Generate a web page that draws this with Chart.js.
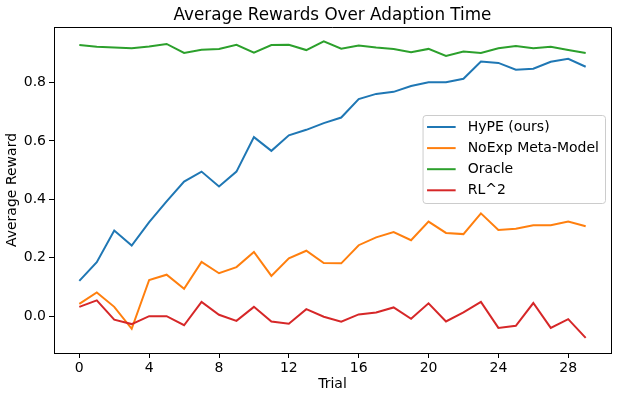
<!DOCTYPE html>
<html>
<head>
<meta charset="utf-8">
<script src="https://cdn.jsdelivr.net/npm/chart.js@4.4.0/dist/chart.umd.min.js"></script>
<style>
  body { margin: 0; background: #fff; }
  #wrap { width: 619px; height: 399px; }
</style>
</head>
<body>
<div id="wrap"><canvas id="chart" width="619" height="399"></canvas></div>
<script>
var trials = [0, 1, 2, 3, 4, 5, 6, 7, 8, 9, 10, 11, 12, 13, 14, 15, 16, 17, 18, 19, 20, 21, 22, 23, 24, 25, 26, 27, 28, 29];
var hype = [0.121, 0.185, 0.293, 0.242, 0.322, 0.393, 0.461, 0.495, 0.444, 0.495, 0.613, 0.566, 0.619, 0.638, 0.661,
            0.680, 0.743, 0.761, 0.768, 0.788, 0.801, 0.801, 0.813, 0.872, 0.867, 0.844, 0.847, 0.871, 0.881, 0.854];
var noexp = [0.042, 0.081, 0.032, -0.043, 0.124, 0.142, 0.094, 0.186, 0.147, 0.168, 0.220, 0.138, 0.198, 0.224, 0.182,
             0.181, 0.243, 0.270, 0.288, 0.260, 0.324, 0.285, 0.281, 0.352, 0.295, 0.299, 0.311, 0.311, 0.324, 0.308];
var oracle = [0.928, 0.922, 0.920, 0.917, 0.923, 0.932, 0.901, 0.912, 0.915, 0.929, 0.902, 0.928, 0.929, 0.911, 0.941,
              0.916, 0.927, 0.920, 0.915, 0.904, 0.915, 0.891, 0.906, 0.901, 0.917, 0.925, 0.917, 0.922, 0.911, 0.901];
var rl2 = [0.032, 0.054, -0.012, -0.027, 0.000, 0.000, -0.031, 0.049, 0.005, -0.016, 0.032, -0.018, -0.026, 0.024, -0.002,
           -0.019, 0.006, 0.013, 0.030, -0.009, 0.044, -0.018, 0.013, 0.049, -0.040, -0.033, 0.045, -0.040, -0.010, -0.074];
var seriesNames = ["HyPE (ours)", "NoExp Meta-Model", "Oracle", "RL^2"];
var xTicks = [0, 4, 8, 12, 16, 20, 24, 28];
var yTicks = [0.0, 0.2, 0.4, 0.6, 0.8];

var FONT = "'DejaVu Sans', sans-serif";

function pts(vals) {
  return trials.map(function(t, i) { return { x: t, y: vals[i] }; });
}

function line(label, vals, color, order) {
  return {
    label: label,
    data: pts(vals),
    borderColor: color,
    backgroundColor: color,
    borderWidth: 2,
    pointRadius: 0,
    tension: 0,
    fill: false,
    order: order
  };
}

// title, top/right spines and the in-plot legend
var extras = {
  id: 'extras',
  afterDraw: function(chart) {
    var ctx = chart.ctx, a = chart.chartArea;
    ctx.save();
    ctx.strokeStyle = '#000';
    ctx.lineWidth = 1;
    ctx.beginPath();
    ctx.moveTo(a.left, a.top + 0.5);
    ctx.lineTo(a.right + 0.5, a.top + 0.5);
    ctx.lineTo(a.right + 0.5, a.bottom);
    ctx.stroke();

    ctx.fillStyle = '#000';
    ctx.font = '16.8px ' + FONT;
    ctx.textAlign = 'center';
    ctx.textBaseline = 'alphabetic';
    ctx.fillText('Average Rewards Over Adaption Time', (a.left + a.right) / 2, 19.5);

    ctx.font = '14px ' + FONT;
    var sets = chart.data.datasets;
    var maxW = 0;
    sets.forEach(function(d) { maxW = Math.max(maxW, ctx.measureText(d.label).width); });
    var w = 4.5 + 28.6 + 12 + maxW + 6;
    var h = 88;
    var x0 = a.right - 6 - w;
    var y0 = a.top + 88;
    ctx.beginPath();
    if (ctx.roundRect) ctx.roundRect(x0 + 0.5, y0 + 0.5, w, h, 3); else ctx.rect(x0 + 0.5, y0 + 0.5, w, h);
    ctx.fillStyle = 'rgba(255,255,255,0.8)';
    ctx.fill();
    ctx.strokeStyle = '#cccccc';
    ctx.stroke();
    ctx.textAlign = 'left';
    ctx.textBaseline = 'middle';
    sets.forEach(function(d, i) {
      var yy = y0 + 12 + i * 21.1;
      ctx.strokeStyle = d.borderColor;
      ctx.lineWidth = 2;
      ctx.beginPath();
      ctx.moveTo(x0 + 4.5, yy);
      ctx.lineTo(x0 + 33.1, yy);
      ctx.stroke();
      ctx.fillStyle = '#000';
      ctx.fillText(d.label, x0 + 45.1, yy);
    });
    ctx.restore();
  }
};

new Chart(document.getElementById('chart'), {
  type: 'line',
  data: {
    datasets: [
      line(seriesNames[0], hype, '#1f77b4', 4),
      line(seriesNames[1], noexp, '#ff7f0e', 3),
      line(seriesNames[2], oracle, '#2ca02c', 2),
      line(seriesNames[3], rl2, '#d62728', 1)
    ]
  },
  options: {
    responsive: false,
    animation: false,
    devicePixelRatio: 1,
    layout: { padding: { top: 27, right: 8, left: 0, bottom: 0 } },
    plugins: {
      legend: { display: false },
      title: { display: false },
      tooltip: { enabled: false }
    },
    scales: {
      x: {
        type: 'linear',
        min: -1.45,
        max: 30.45,
        afterFit: function(s) { s.height = 46; },
        afterBuildTicks: function(s) { s.ticks = xTicks.map(function(v) { return { value: v }; }); },
        grid: { display: true, drawOnChartArea: false, drawTicks: true, tickLength: 5, tickColor: '#000', tickWidth: 1 },
        border: { display: true, color: '#000', width: 1 },
        ticks: {
          color: '#000',
          padding: 2,
          maxRotation: 0,
          font: { family: FONT, size: 14 },
          callback: function(v) { return String(v); }
        },
        title: { display: true, text: 'Trial', color: '#000', font: { family: FONT, size: 14 }, padding: { top: 0, bottom: 6 } }
      },
      y: {
        type: 'linear',
        min: -0.126,
        max: 0.99,
        afterFit: function(s) { s.width = 54; },
        afterBuildTicks: function(s) { s.ticks = yTicks.map(function(v) { return { value: v }; }); },
        grid: { display: true, drawOnChartArea: false, drawTicks: true, tickLength: 5, tickColor: '#000', tickWidth: 1 },
        border: { display: true, color: '#000', width: 1 },
        ticks: {
          color: '#000',
          padding: 3,
          font: { family: FONT, size: 14 },
          callback: function(v) { return v.toFixed(1); }
        },
        title: { display: true, text: 'Average Reward', color: '#000', font: { family: FONT, size: 14 }, padding: { top: 4, bottom: 0 } }
      }
    }
  },
  plugins: [extras]
});
</script>
</body>
</html>
